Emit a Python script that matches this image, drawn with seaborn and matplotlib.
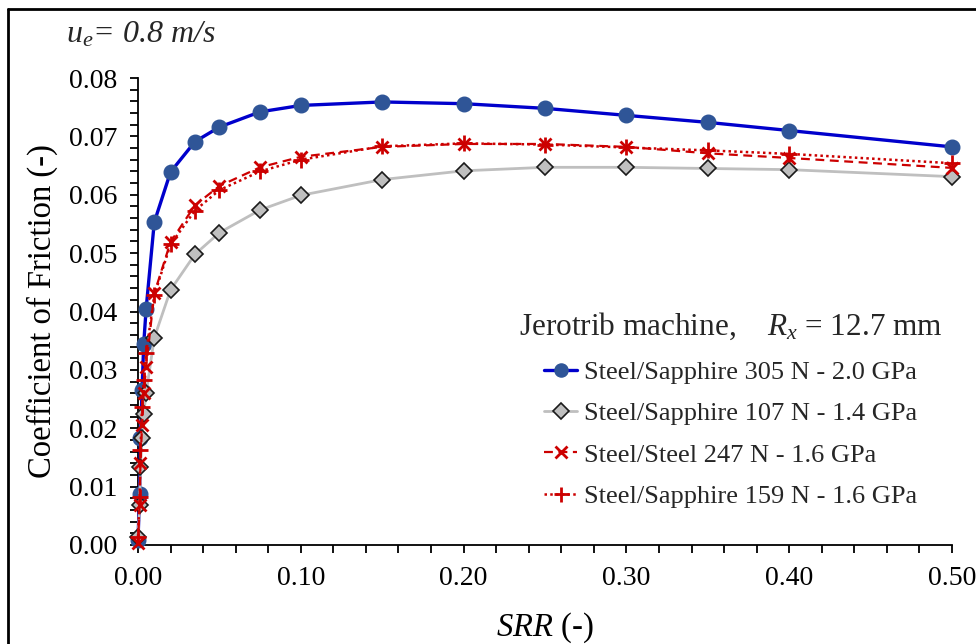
import matplotlib
matplotlib.use("Agg")
import matplotlib.pyplot as plt
import seaborn as sns
import pandas as pd
from matplotlib.lines import Line2D
from matplotlib.ticker import MultipleLocator, FormatStrFormatter

# slide-to-roll ratio, shared by all four runs
SRR = [0, 0.001, 0.0015, 0.0025, 0.0035, 0.005, 0.01, 0.02, 0.035, 0.05,
       0.075, 0.1, 0.15, 0.2, 0.25, 0.3, 0.35, 0.4, 0.5]

# coefficient of friction
COF_SAPH_305 = [0.0009, 0.0088, 0.0183, 0.0265, 0.0344, 0.0405, 0.0553, 0.0639,
                0.0691, 0.0716, 0.0742, 0.0753, 0.0759, 0.0756, 0.0748, 0.0736,
                0.0724, 0.0710, 0.0682]
COF_SAPH_107 = [0.0014, 0.0068, 0.0133, 0.0183, 0.0225, 0.0260, 0.0355, 0.0437,
                0.0498, 0.0535, 0.0574, 0.0599, 0.0626, 0.0641, 0.0647, 0.0647,
                0.0645, 0.0643, 0.0631]
COF_STEEL_247 = [0.0003, 0.0068, 0.0140, 0.0205, 0.0260, 0.0305, 0.0431, 0.0519,
                 0.0582, 0.0615, 0.0647, 0.0665, 0.0682, 0.0687, 0.0687, 0.0682,
                 0.0671, 0.0663, 0.0646]
COF_SAPH_159 = [0.0014, 0.0083, 0.0163, 0.0237, 0.0283, 0.0329, 0.0428, 0.0515,
                0.0573, 0.0608, 0.0640, 0.0660, 0.0683, 0.0688, 0.0686, 0.0681,
                0.0676, 0.0670, 0.0654]

LABELS = ["Steel/Sapphire 305 N - 2.0 GPa",
          "Steel/Sapphire 107 N - 1.4 GPa",
          "Steel/Steel 247 N - 1.6 GPa",
          "Steel/Sapphire 159 N - 1.6 GPa"]
SERIES = [COF_SAPH_305, COF_SAPH_107, COF_STEEL_247, COF_SAPH_159]

# per-series look: line colour, linestyle, lw, marker, size, face, edge, mew
STYLES = [
    dict(color="#0000CC", ls="-", lw=2.4, marker="o", ms=10.5, mfc="#2F5597", mec="#2F5597", mew=1),
    dict(color="#BFBFBF", ls="-", lw=2.0, marker="D", ms=8.5, mfc="#BFBFBF", mec="#1a1a1a", mew=1.2),
    dict(color="#CC0000", ls=(0, (4, 2.5)), lw=1.6, marker="x", ms=9, mfc="#CC0000", mec="#CC0000", mew=2),
    dict(color="#CC0000", ls=(0, (1, 1.3)), lw=1.8, marker="+", ms=12, mfc="#CC0000", mec="#CC0000", mew=2),
]

df = pd.concat([pd.DataFrame({"srr": SRR, "cof": vals, "run": lab})
                for vals, lab in zip(SERIES, LABELS)], ignore_index=True)

sns.set_theme(style="ticks")
plt.rcParams["font.family"] = ["Liberation Serif", "DejaVu Serif"]
plt.rcParams["mathtext.fontset"] = "custom"
plt.rcParams["mathtext.rm"] = "Liberation Serif"
plt.rcParams["mathtext.it"] = "Liberation Serif:italic"

fig = plt.figure(figsize=(9.76, 6.44), dpi=100)
ax = fig.add_axes([138 / 976, 1 - 545 / 644, (952 - 138) / 976, (545 - 78) / 644])

handles = []
for lab, st in zip(LABELS, STYLES):
    sub = df[df["run"] == lab]
    sns.lineplot(data=sub, x="srr", y="cof", ax=ax, sort=False, estimator=None,
                 color=st["color"], linestyle=st["ls"], linewidth=st["lw"],
                 marker=st["marker"], markersize=st["ms"], markerfacecolor=st["mfc"],
                 markeredgecolor=st["mec"], markeredgewidth=st["mew"], legend=False,
                 clip_on=False, zorder=3)
    handles.append(Line2D([], [], color=st["color"], linestyle=st["ls"], linewidth=st["lw"],
                          marker=st["marker"], markersize=st["ms"] * 0.9,
                          markerfacecolor=st["mfc"], markeredgecolor=st["mec"],
                          markeredgewidth=st["mew"]))

ax.set_xlim(0, 0.5)
ax.set_ylim(0, 0.08)
ax.xaxis.set_major_locator(MultipleLocator(0.1))
ax.xaxis.set_minor_locator(MultipleLocator(0.02))
ax.yaxis.set_major_locator(MultipleLocator(0.01))
ax.yaxis.set_minor_locator(MultipleLocator(0.002))
ax.xaxis.set_major_formatter(FormatStrFormatter("%.2f"))
ax.yaxis.set_major_formatter(FormatStrFormatter("%.2f"))
ax.tick_params(which="both", direction="out", color="black", width=1.3, labelsize=20,
               labelcolor="black")
ax.tick_params(which="major", length=6, pad=9)
ax.tick_params(which="minor", length=6)
sns.despine(ax=ax)
for side in ("left", "bottom"):
    ax.spines[side].set_linewidth(1.3)
    ax.spines[side].set_color("black")

ax.set_xlabel(r"$SRR$ (-)", fontsize=23.5, labelpad=14, color="black")
ax.set_ylabel("Coefficient of Friction (-)", fontsize=23.5, labelpad=8, color="black")

fig.text(66 / 976, 1 - 35 / 644, r"$u_e$= 0.8 m/s", fontsize=23, style="italic",
         va="center", ha="left")

leg = fig.legend(handles, LABELS, loc="upper left",
                 bbox_to_anchor=(519 / 976, 1 - 311 / 644), frameon=False,
                 fontsize=19, handlelength=1.25, handletextpad=0.27, labelspacing=0.68,
                 borderpad=0, borderaxespad=0,
                 title=r"Jerotrib machine,    $R_x$ = 12.7 mm",
                 title_fontproperties={"size": 22.5, "family": "Liberation Serif"})

# outer frame of the original figure (top and left edges visible)
fig.add_artist(Line2D([8 / 976, 1], [1 - 9 / 644, 1 - 9 / 644], color="black", lw=2,
                      transform=fig.transFigure))
fig.add_artist(Line2D([8 / 976, 8 / 976], [0, 1 - 9 / 644], color="black", lw=2,
                      transform=fig.transFigure))

fig.savefig("out.png", dpi=100, facecolor="white")
